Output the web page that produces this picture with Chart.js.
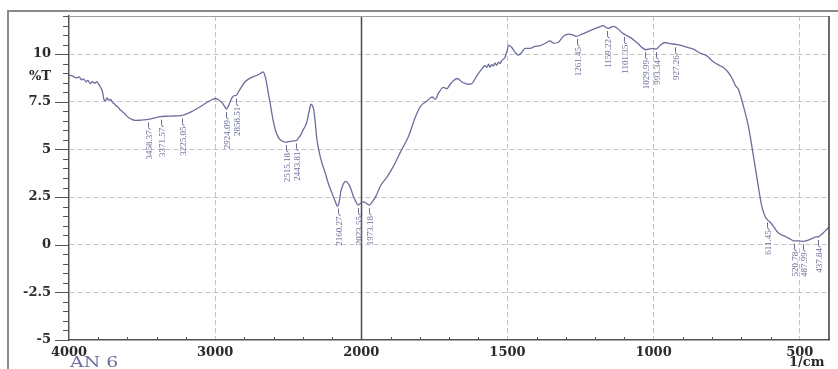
<!DOCTYPE html>
<html><head><meta charset="utf-8">
<script src="https://cdn.jsdelivr.net/npm/chart.js@4.4.1/dist/chart.umd.min.js"></script>
<style>html,body{margin:0;padding:0;background:#fff;}canvas{display:block;}</style>
</head><body>
<canvas id="c" width="838" height="369"></canvas>
<script>
// ---- data (wavenumber in 1/cm, %T) ----
const WAVENUMBERS = [4000,3975,3950,3930,3915,3900,3885,3870,3855,3840,3825,3810,3795,3783,3770,3760,3750,3740,3728,3715,3700,3690,3680,3665,3650,3635,3620,3605,3590,3570,3548,3520,3490,3458,3420,3400,3372,3340,3300,3260,3225,3190,3150,3100,3057,3020,3000,2980,2960,2945,2930,2924,2915,2900,2885,2870,2858,2845,2830,2815,2795,2780,2750,2714,2690,2673,2665,2655,2646,2635,2623,2610,2600,2585,2567,2545,2521,2500,2475,2455,2443,2430,2415,2400,2385,2372,2360,2350,2345,2335,2325,2315,2305,2292,2270,2247,2225,2201,2180,2162,2150,2140,2125,2110,2100,2085,2070,2055,2040,2023,2010,2000,1992,1985,1973,1960,1950,1935,1910,1890,1867,1838,1815,1798,1775,1758,1747,1736,1719,1707,1696,1685,1671,1656,1645,1634,1622,1605,1588,1577,1570,1565,1559,1554,1548,1543,1537,1531,1525,1520,1509,1500,1497,1485,1474,1463,1451,1440,1423,1406,1389,1366,1355,1342,1327,1308,1290,1275,1265,1245,1217,1190,1172,1163,1155,1145,1137,1120,1109,1095,1080,1065,1052,1040,1026,1012,1001,992,978,961,945,933,920,910,890,864,841,818,796,773,761,745,733,720,710,693,676,664,653,642,630,619,611,600,590,573,550,535,520,505,490,476,465,454,442,437,431,420,403,400];
const TRANSMITTANCE = [8.9,8.85,8.75,8.8,8.65,8.7,8.55,8.62,8.45,8.55,8.48,8.55,8.4,8.25,8.0,7.6,7.55,7.7,7.58,7.62,7.45,7.4,7.3,7.22,7.08,6.98,6.88,6.76,6.66,6.58,6.52,6.53,6.55,6.58,6.64,6.68,6.72,6.74,6.75,6.76,6.78,6.88,7.03,7.25,7.46,7.62,7.67,7.62,7.5,7.38,7.18,7.12,7.2,7.45,7.7,7.82,7.82,7.95,8.15,8.33,8.55,8.65,8.78,8.89,8.98,9.07,9.0,8.75,8.4,7.9,7.4,6.8,6.4,5.95,5.62,5.45,5.38,5.4,5.44,5.45,5.47,5.6,5.75,6.0,6.2,6.45,6.9,7.25,7.37,7.3,7.05,6.4,5.6,5.0,4.3,3.77,3.2,2.72,2.3,2.02,2.3,2.8,3.15,3.32,3.3,3.15,2.9,2.55,2.3,2.08,2.15,2.2,2.25,2.2,2.08,2.3,2.55,3.07,3.6,4.12,4.83,5.7,6.7,7.25,7.54,7.75,7.63,7.95,8.25,8.19,8.42,8.6,8.72,8.54,8.47,8.42,8.45,8.86,9.21,9.39,9.3,9.47,9.32,9.45,9.38,9.53,9.42,9.58,9.5,9.65,9.82,10.25,10.47,10.35,10.09,9.95,10.09,10.3,10.3,10.4,10.44,10.61,10.7,10.58,10.61,10.95,11.05,11.0,10.93,11.05,11.23,11.4,11.49,11.4,11.35,11.42,11.46,11.3,11.14,11.0,10.88,10.7,10.53,10.35,10.23,10.28,10.3,10.26,10.45,10.61,10.55,10.53,10.5,10.47,10.38,10.26,10.05,9.91,9.6,9.39,9.3,9.05,8.77,8.35,8.16,7.28,6.23,5.17,4.12,3.07,2.02,1.49,1.32,1.15,0.96,0.61,0.44,0.32,0.2,0.2,0.18,0.21,0.28,0.35,0.42,0.4,0.47,0.61,0.88,0.92];
const PEAK_WAVENUMBERS = [3458.37,3371.57,3225.05,2924.09,2858.51,2515.18,2443.81,2160.27,2023.55,1973.18,1261.45,1159.22,1101.35,1029.99,993.34,927.26,611.45,520.78,487.99,437.84];
const PEAK_LABELS = ['3458.37','3371.57','3225.05','2924.09','2858.51','2515.18','2443.81','2160.27','2023.55','1973.18','1261.45','1159.22','1101.35','1029.99','993.34','927.26','611.45','520.78','487.99','437.84'];
const X_TICKS = [4000,3000,2000,1500,1000,500];
const X_MINOR = [3800,3600,3400,3200,2800,2600,2400,2200,1900,1800,1700,1600,1400,1300,1200,1100,900,800,700,600];
const Y_MAJOR = [-5,-2.5,0,2.5,5,7.5,10];
const SAMPLE_NAME = 'AN 6';
const Y_TITLE = '%T';
const X_UNIT = '1/cm';

const CURVE = '#6b6e9c';
const GRID = '#c4c4c4';
const AXIS = '#555555';
const LABEL_FONT = {family: 'DejaVu Serif', weight: 'bold', size: 13};

// ---- FTIR x-scale: 4000-2000 compressed, 2000-400 expanded x2 ----
class FtirScale extends Chart.LinearScale {
  _t(v) { return v >= 2000 ? (4000 - v) : 2000 + 2 * (2000 - v); }
  buildTicks() { return X_TICKS.map(v => ({value: v})); }
  getPixelForValue(v) {
    if (v === null || v === undefined || isNaN(v)) return NaN;
    const total = this._t(this.min);
    return this.getPixelForDecimal((this._t(v) - this._t(this.max)) / (total - this._t(this.max)));
  }
  getValueForPixel(p) {
    const t = this.getDecimalForPixel(p) * this._t(this.min);
    return t <= 2000 ? 4000 - t : 2000 - (t - 2000) / 2;
  }
}
FtirScale.id = 'ftir';
FtirScale.defaults = {};
Chart.register(FtirScale);

function valueAt(w) {
  for (let i = 0; i < WAVENUMBERS.length - 1; i++) {
    const a = WAVENUMBERS[i], b = WAVENUMBERS[i + 1];
    if (w <= a && w >= b) {
      const f = (a - w) / (a - b);
      return TRANSMITTANCE[i] + f * (TRANSMITTANCE[i + 1] - TRANSMITTANCE[i]);
    }
  }
  return TRANSMITTANCE[TRANSMITTANCE.length - 1];
}
const isMajorY = v => Y_MAJOR.some(m => Math.abs(m - v) < 1e-6);

const decor = {
  id: 'decor',
  beforeDatasetsDraw(chart) {
    const {ctx, chartArea: a, scales: {x}} = chart;
    const px = Math.round(x.getPixelForValue(2000)) + 0.5;
    ctx.save();
    ctx.strokeStyle = '#4a4a4a'; ctx.lineWidth = 1.5;
    ctx.beginPath(); ctx.moveTo(px, a.top); ctx.lineTo(px, a.bottom); ctx.stroke();
    ctx.restore();
  },
  afterDraw(chart) {
    const {ctx, chartArea: a, scales: {x, y}} = chart;
    ctx.save();
    // outer frame
    ctx.strokeStyle = '#8a8a8a'; ctx.lineWidth = 2;
    ctx.strokeRect(8, 11, 900, 400);
    // top and right borders of plot
    ctx.strokeStyle = '#a0a0a0'; ctx.lineWidth = 1;
    ctx.beginPath(); ctx.moveTo(a.left, a.top + 0.5); ctx.lineTo(a.right, a.top + 0.5); ctx.stroke();
    ctx.strokeStyle = '#3a3a3a'; ctx.lineWidth = 1.5;
    ctx.beginPath(); ctx.moveTo(a.right, a.top); ctx.lineTo(a.right, a.bottom); ctx.stroke();
    // y tick marks
    ctx.strokeStyle = AXIS; ctx.lineWidth = 1;
    y.ticks.forEach(t => {
      const py = Math.round(y.getPixelForValue(t.value)) + 0.5;
      const len = isMajorY(t.value) ? 14 : 6;
      ctx.beginPath(); ctx.moveTo(a.left - len, py); ctx.lineTo(a.left, py); ctx.stroke();
    });
    // x minor tick marks
    X_MINOR.forEach(w => {
      const px = Math.round(x.getPixelForValue(w)) + 0.5;
      ctx.beginPath(); ctx.moveTo(px, a.bottom - 3); ctx.lineTo(px, a.bottom); ctx.stroke();
    });
    // axis texts
    ctx.fillStyle = '#2a2a2a';
    ctx.font = 'bold 13px "DejaVu Serif"';
    ctx.textAlign = 'right'; ctx.textBaseline = 'middle';
    ctx.fillText(Y_TITLE, 51, y.getPixelForValue(8.8));
    ctx.textAlign = 'left';
    ctx.fillText(X_UNIT, 789, 363);
    ctx.fillStyle = CURVE;
    ctx.font = '14px "DejaVu Serif"';
    ctx.save();
    ctx.translate(70, 363); ctx.scale(1.35, 1);
    ctx.fillText(SAMPLE_NAME, 0, 0);
    ctx.restore();
    // peak labels
    ctx.font = '9px "Liberation Serif"';
    ctx.strokeStyle = CURVE; ctx.fillStyle = CURVE; ctx.lineWidth = 1;
    PEAK_WAVENUMBERS.forEach((w, i) => {
      const px = Math.round(x.getPixelForValue(w)) + 0.5;
      const yc = y.getPixelForValue(valueAt(w));
      const top = yc + 11;
      ctx.beginPath();
      ctx.moveTo(px, yc + 3); ctx.lineTo(px, top - 3);
      ctx.quadraticCurveTo(px, top - 1, px + 2, top - 1);
      ctx.stroke();
      ctx.save();
      ctx.translate(px + 1, top);
      ctx.rotate(-Math.PI / 2);
      ctx.textAlign = 'right'; ctx.textBaseline = 'middle';
      ctx.fillText(PEAK_LABELS[i], 0, 0);
      ctx.restore();
    });
    ctx.restore();
  }
};

new Chart(document.getElementById('c'), {
  type: 'line',
  data: {
    datasets: [{
      data: WAVENUMBERS.map((w, i) => ({x: w, y: TRANSMITTANCE[i]})),
      borderColor: CURVE, borderWidth: 1.3, pointRadius: 0,
      cubicInterpolationMode: 'monotone', fill: false
    }]
  },
  options: {
    responsive: false, animation: false, devicePixelRatio: 1,
    layout: {padding: {top: 16, right: 9, left: 0, bottom: 0}},
    plugins: {legend: {display: false}, tooltip: {enabled: false}},
    scales: {
      x: {
        type: 'ftir', min: 400, max: 4000,
        afterFit: s => { s.height = 29; s.paddingLeft = 0; s.paddingRight = 0; },
        grid: {drawTicks: false, lineWidth: 1,
          color: c => (c.tick && (c.tick.value === 2000 || c.tick.value === 4000)) ? 'rgba(0,0,0,0)' : GRID},
        border: {display: true, color: AXIS, width: 1.5, dash: [5, 3]},
        ticks: {autoSkip: false, maxRotation: 0, padding: 5, color: '#2a2a2a', font: LABEL_FONT,
          callback: v => String(v)}
      },
      y: {
        min: -5, max: 12,
        afterFit: s => { s.width = 69; s.paddingTop = 0; s.paddingBottom = 0; },
        afterBuildTicks: s => {
          const t = [];
          for (let k = 0; k <= 34; k++) t.push({value: -5 + k * 0.5});
          s.ticks = t;
        },
        grid: {drawTicks: false, lineWidth: 1,
          color: c => (c.tick && isMajorY(c.tick.value) && c.tick.value > -5) ? GRID : 'rgba(0,0,0,0)'},
        border: {display: true, color: AXIS, width: 1.5, dash: [5, 3]},
        ticks: {autoSkip: false, padding: 18, color: '#2a2a2a', font: LABEL_FONT,
          callback: v => isMajorY(v) ? String(v) : ''}
      }
    }
  },
  plugins: [decor]
});
</script>
</body></html>
